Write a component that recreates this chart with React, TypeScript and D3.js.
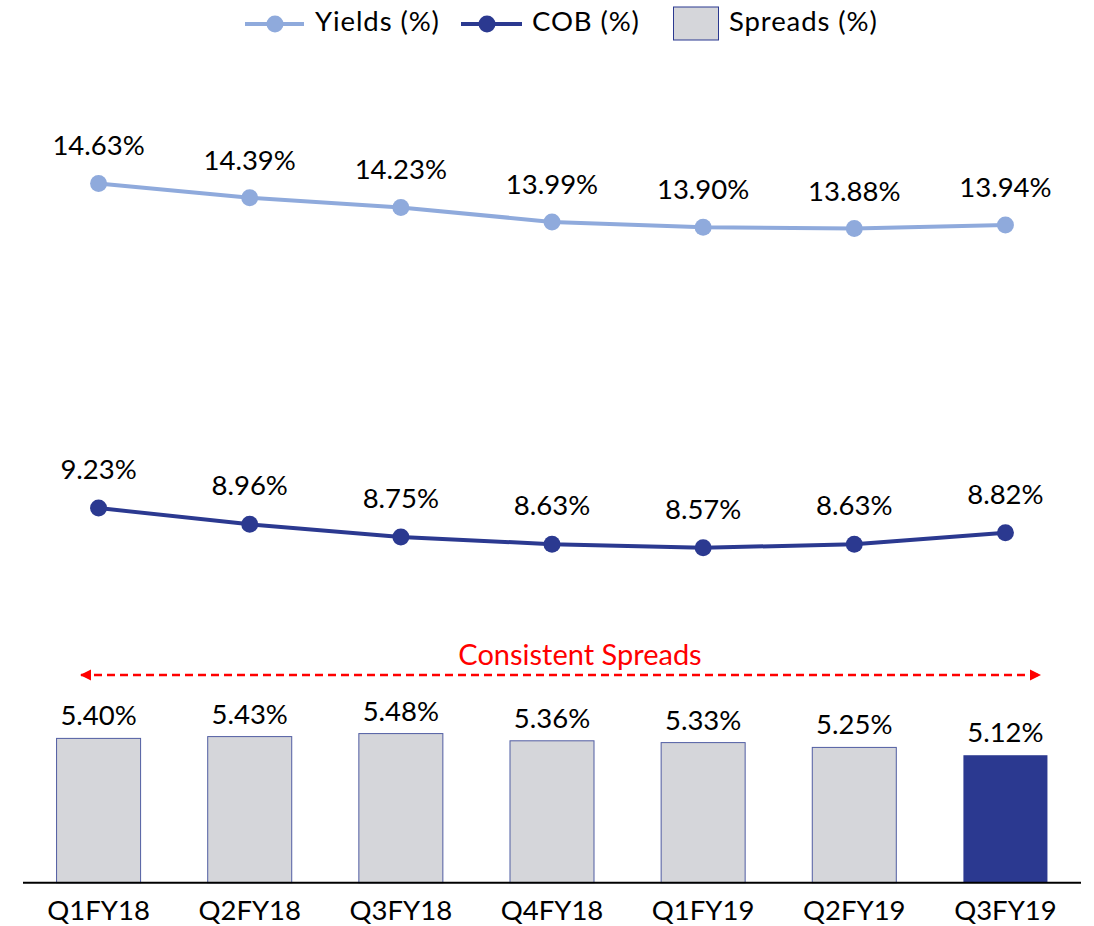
import React from "react";
import * as d3 from "d3";

const categories = ["Q1FY18", "Q2FY18", "Q3FY18", "Q4FY18", "Q1FY19", "Q2FY19", "Q3FY19"];
const yields = [14.63, 14.39, 14.23, 13.99, 13.9, 13.88, 13.94];
const cob = [9.23, 8.96, 8.75, 8.63, 8.57, 8.63, 8.82];
const spreads = [5.4, 5.43, 5.48, 5.36, 5.33, 5.25, 5.12];

const width = 1094;
const height = 926;
const font = "Lato, 'Open Sans', sans-serif";

const yieldColor = "#8faadc";
const cobColor = "#2b3990";
const barFill = "#d5d6da";

const App = () => {
  // shared value axis for lines and bars
  const x = d3.scaleBand().domain(categories).range([23, 1081]).paddingInner(0.444).paddingOuter(0.222);
  const y = d3.scaleLinear().domain([3, 17]).range([882.7, 40.9]);
  const cx = (c: string) => (x(c) || 0) + x.bandwidth() / 2;

  const line = d3
    .line<number>()
    .x((_, i) => cx(categories[i]))
    .y((d) => y(d));

  const fmt = (v: number) => v.toFixed(2) + "%";

  return (
    <svg width={width} height={height} style={{ position: "absolute", left: 0, top: 0, background: "#fff" }}>
      <defs>
        <marker id="arrowHead" viewBox="0 0 10 10" refX="9" refY="5" markerWidth="4.5" markerHeight="4.5" orient="auto-start-reverse">
          <path d="M0,0 L10,5 L0,10 Z" fill="#ff0000" />
        </marker>
      </defs>

      {/* legend */}
      <g fontFamily={font} fontSize={27.5} letterSpacing={0.9} fill="#000">
        <line x1={245} x2={304} y1={24} y2={24} stroke={yieldColor} strokeWidth={4} />
        <circle cx={275} cy={24} r={8.5} fill={yieldColor} />
        <text x={315} y={31}>Yields (%)</text>
        <line x1={461} x2={522} y1={24} y2={24} stroke={cobColor} strokeWidth={4} />
        <circle cx={487} cy={24} r={8.5} fill={cobColor} />
        <text x={532} y={31}>COB (%)</text>
        <rect x={673.5} y={7} width={45} height={33} fill={barFill} stroke={cobColor} strokeWidth={1} />
        <text x={729} y={31}>Spreads (%)</text>
      </g>

      {/* spread bars */}
      {spreads.map((v, i) => (
        <rect
          key={categories[i]}
          x={x(categories[i])}
          y={y(v)}
          width={x.bandwidth()}
          height={y(3) - y(v)}
          fill={i === spreads.length - 1 ? cobColor : barFill}
          stroke={cobColor}
          strokeWidth={i === spreads.length - 1 ? 0 : 1}
          strokeOpacity={0.8}
        />
      ))}

      {/* baseline */}
      <line x1={23} x2={1081} y1={y(3)} y2={y(3)} stroke="#000" strokeWidth={2} />

      {/* lines */}
      <path d={line(yields) || ""} fill="none" stroke={yieldColor} strokeWidth={4} />
      <path d={line(cob) || ""} fill="none" stroke={cobColor} strokeWidth={4} />
      {yields.map((v, i) => (
        <circle key={"y" + i} cx={cx(categories[i])} cy={y(v)} r={8.5} fill={yieldColor} />
      ))}
      {cob.map((v, i) => (
        <circle key={"c" + i} cx={cx(categories[i])} cy={y(v)} r={8.5} fill={cobColor} />
      ))}

      {/* value labels */}
      <g fontFamily={font} fontSize={27.5} fill="#000" textAnchor="middle">
        {yields.map((v, i) => (
          <text key={"yl" + i} x={cx(categories[i])} y={y(v) - 28}>{fmt(v)}</text>
        ))}
        {cob.map((v, i) => (
          <text key={"cl" + i} x={cx(categories[i])} y={y(v) - 29}>{fmt(v)}</text>
        ))}
        {spreads.map((v, i) => (
          <text key={"sl" + i} x={cx(categories[i])} y={y(v) - 13}>{fmt(v)}</text>
        ))}
        {categories.map((c) => (
          <text key={c} x={cx(c)} y={920}>{c}</text>
        ))}
      </g>

      {/* consistent spreads annotation */}
      <line
        x1={81}
        x2={1040}
        y1={675}
        y2={675}
        stroke="#ff0000"
        strokeWidth={2.5}
        strokeDasharray="8,5"
        markerStart="url(#arrowHead)"
        markerEnd="url(#arrowHead)"
      />
      <text x={580} y={665} fontFamily={font} fontSize={29} fill="#ff0000" textAnchor="middle">
        Consistent Spreads
      </text>
    </svg>
  );
};

export default App;
